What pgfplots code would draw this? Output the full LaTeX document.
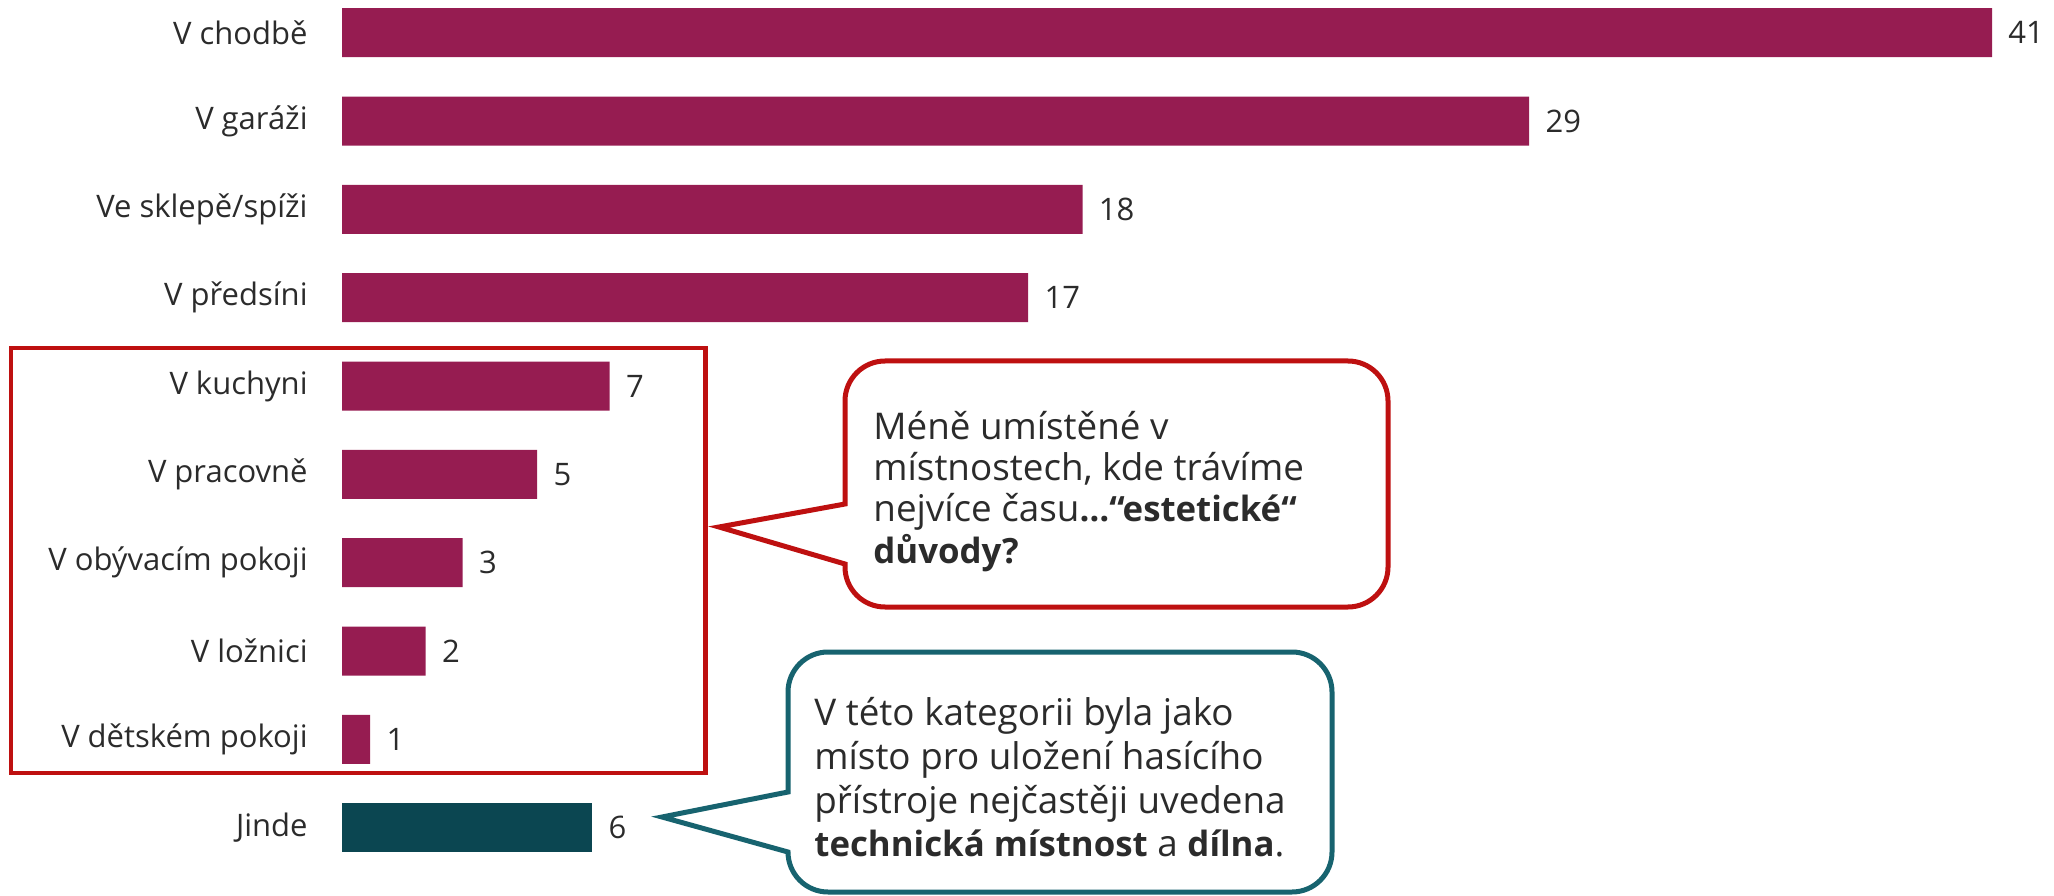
\documentclass[border=0pt]{standalone}
\usepackage{pgfplots}
\pgfplotsset{compat=1.18}
\usepackage{fontspec}
\setmainfont{Open Sans}
\definecolor{barmag}{HTML}{961C51}
\definecolor{barteal}{HTML}{0B4651}
\definecolor{boxred}{HTML}{BE1010}
\definecolor{boxteal}{HTML}{17636F}
\definecolor{txt}{HTML}{2B2B2B}
\newcommand{\bt}[1]{{\fontsize{17.4}{22}\selectfont\bfseries #1}}
\begin{document}
\begin{tikzpicture}
\path[use as bounding box] (0pt,0pt) rectangle (1027pt,447.5pt);
\begin{axis}[
  at={(171pt,0pt)}, anchor=south west,
  scale only axis, width=856pt, height=447.5pt,
  xmin=0, xmax=42.54, ymin=-0.761, ymax=9.37,
  axis lines=left, axis line style={draw=none},
  xtick=\empty,
  ytick={0,...,9},
  yticklabels={Jinde,V dětském pokoji,V ložnici,V obývacím pokoji,V pracovně,V kuchyni,V předsíni,Ve sklepě/spíži,V garáži,V chodbě},
  major tick length=0pt,
  yticklabel style={font=\fontsize{15.5}{18}\selectfont, text=txt, inner sep=0pt, xshift=-17pt},
  xbar, bar width=24.5pt,
  nodes near coords,
  point meta=explicit symbolic,
  nodes near coords style={font=\fontsize{15.5}{18}\selectfont, text=txt, anchor=west, inner sep=0pt, xshift=8pt},
  clip=false,
]
\addplot[xbar, bar shift=0pt, fill=barmag, draw=none] table[x=x, y=y, meta=lab] {
x y lab
41.0 9 41
29.5 8 29
18.4 7 18
17.05 6 17
6.65 5 7
4.85 4 5
3.0 3 3
2.08 2 2
0.7 1 1
};
\addplot[xbar, bar shift=0pt, fill=barteal, draw=none] table[x=x, y=y, meta=lab] {
x y lab
6.22 0 6
};
\end{axis}
% bracket box
\draw[boxred, line width=2.2pt] (5.5pt,61pt) rectangle (352.8pt,273.5pt);
% red callout
\draw[boxred, line width=2.5pt, fill=white, line join=miter]
  (422.5pt,195.5pt) -- (422.5pt,247pt) arc[start angle=180,end angle=90,radius=20pt]
  -- (674pt,267pt) arc[start angle=90,end angle=0,radius=20pt]
  -- (694pt,164pt) arc[start angle=0,end angle=-90,radius=20pt]
  -- (442.5pt,144pt) arc[start angle=-90,end angle=-180,radius=20pt]
  -- (422.5pt,165.5pt) -- (359.5pt,184pt) -- cycle;
% teal callout
\draw[boxteal, line width=2.5pt, fill=white, line join=miter]
  (394pt,51.5pt) -- (394pt,101.5pt) arc[start angle=180,end angle=90,radius=20pt]
  -- (646pt,121.5pt) arc[start angle=90,end angle=0,radius=20pt]
  -- (666pt,21.5pt) arc[start angle=0,end angle=-90,radius=20pt]
  -- (414pt,1.5pt) arc[start angle=-90,end angle=-180,radius=20pt]
  -- (394pt,21.5pt) -- (331pt,39pt) -- cycle;
\begin{scope}[every node/.style={anchor=mid west, inner sep=0pt, text=txt, font=\fontsize{18.4}{22}\selectfont}]
\node at (436.5pt,230.4pt) {Méně umístěné v};
\node at (436.5pt,209.9pt) {místnostech, kde trávíme};
\node at (436.5pt,189.3pt) {nejvíce času\bt{…“estetické“}};
\node at (436.5pt,168.5pt) {\bt{důvody?}};
\node at (407pt,87.2pt) {V této kategorii byla jako};
\node at (407pt,65.2pt) {místo pro uložení hasícího};
\node at (407pt,43.5pt) {přístroje nejčastěji uvedena};
\node at (407pt,21.8pt) {\bt{technická místnost} a \bt{dílna}.};
\end{scope}
\end{tikzpicture}
\end{document}
